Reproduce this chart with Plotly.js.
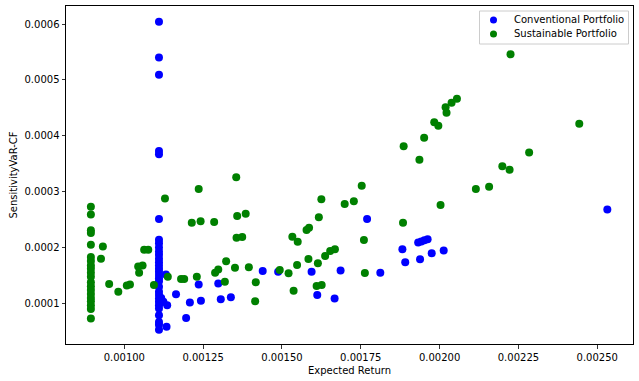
<!DOCTYPE html>
<html>
<head>
<meta charset="utf-8">
<script src="https://cdn.plot.ly/plotly-3.0.1.min.js"></script>
<style>html,body{margin:0;padding:0;background:#fff;}#chart{width:639px;height:381px;}</style>
</head>
<body>
<div id="chart"></div>
<script>
// Conventional Portfolio (blue) : expected return and SensitivityVaR-CF
const convReturn = [
  0.00111,0.00111,0.00111,0.00111,0.00111,0.00111,
  0.00111,0.00111,0.00111,0.00111,0.00111,0.00111,0.00111,0.00111,0.00111,0.00111,0.00111,0.00111,0.00111,
  0.00111,0.00111,0.00111,0.00111,0.00111,0.00111,0.00111,0.00111,0.00111,0.00111,0.00111,
  0.001117,0.00112,
  0.001132,0.001136,0.001124,0.001134,0.001164,0.001208,0.001196,0.001236,0.001243,0.001298,0.001306,0.001338,
  0.001439,0.001488,0.001594,0.001686,0.001612,0.001667,0.00177,0.001812,0.001882,0.001891,0.001938,
  0.001932,0.001942,0.001952,0.001962,0.001975,0.002013,0.002532
];
const convVaR = [
  0.000604,0.000540,0.000509,0.000373,0.000367,0.000251,
  0.000214,0.000208,0.000200,0.000193,0.000187,0.000180,0.000174,0.000168,0.000162,0.000157,0.000151,0.000145,0.000140,
  0.000130,0.000121,0.000115,0.000109,0.000103,0.000097,0.000091,0.000079,0.000067,0.000062,0.000053,
  0.000110,0.000104,
  0.000152,0.000097,0.000103,0.0000585,0.0001165,0.000102,0.000074,0.000134,0.000105,0.000136,0.0001075,0.000111,
  0.000158,0.000157,0.000157,0.000159,0.000115,0.000109,0.000251,0.000155,0.000197,0.000174,0.000179,
  0.000209,0.000211,0.000213,0.000215,0.000190,0.000195,0.000268
];

// Sustainable Portfolio (green)
const sustReturn = [
  0.000894,0.000894,0.000894,0.000894,0.000894,0.000894,0.000894,0.000894,0.000894,
  0.000894,0.000894,0.000894,0.000894,0.000894,0.000894,0.000894,0.000894,0.000894,0.000894,0.000894,
  0.000932,0.000926,0.000952,0.000981,0.001008,0.001018,0.001044,0.001058,0.001047,0.001063,0.001076,
  0.001094,0.001129,0.001138,0.00118,0.00119,0.00123,0.001214,0.001242,0.001236,0.001285,0.001288,0.001298,
  0.001355,0.001358,0.001385,0.001356,0.001374,0.001533,0.00155,0.001578,0.001586,0.001625,0.001617,
  0.001699,0.001728,0.001753,0.001323,0.001351,0.001395,0.001319,0.001417,0.001415,0.001493,0.001521,
  0.001548,0.001537,0.001584,0.001614,0.00161,0.001626,0.001637,0.001653,0.001668,0.001936,0.001884,
  0.00176,0.001763,0.002003,0.002115,0.002157,0.002199,0.002222,0.002284,0.002225,0.002055,0.002038,
  0.002019,0.002022,0.001983,0.001996,0.001951,0.001886,0.002443
];
const sustVaR = [
  0.000273,0.000259,0.000231,0.000226,0.000205,0.000183,0.000176,0.000168,0.000162,
  0.000155,0.000148,0.000138,0.000131,0.000124,0.000117,0.000110,0.000104,0.000097,0.000090,0.000073,
  0.000202,0.000180,0.000135,0.000121,0.000132,0.000134,0.000166,0.000168,0.000155,0.000196,0.000196,
  0.000133,0.000288,0.000148,0.000144,0.000144,0.000148,0.0002445,0.000247,0.000305,0.000246,0.000155,0.000161,
  0.0003257,0.0002565,0.0002606,0.0002177,0.000219,0.0002195,0.0002105,0.0002315,0.0002356,0.0002864,0.0002542,
  0.000278,0.000283,0.0003107,0.0001755,0.000164,0.0001648,0.000139,0.000138,0.000104,0.00016,0.000154,
  0.0001689,0.0001229,0.0001796,0.000172,0.0001313,0.0001331,0.000185,0.0001939,0.0001969,0.0003573,0.0002445,
  0.0002136,0.0001546,0.0002762,0.0003048,0.000309,0.0003454,0.0003394,0.00037,0.0005458,0.0004664,0.0004592,
  0.000451,0.0004413,0.0004241,0.0004181,0.0003966,0.0003812,0.0004217
];

const xTickVals = [0.00100,0.00125,0.00150,0.00175,0.00200,0.00225,0.00250];
const xTickText = ["0.00100","0.00125","0.00150","0.00175","0.00200","0.00225","0.00250"];
const yTickVals = [0.0001,0.0002,0.0003,0.0004,0.0005,0.0006];
const yTickText = ["0.0001","0.0002","0.0003","0.0004","0.0005","0.0006"];
const seriesNames = ["Conventional Portfolio","Sustainable Portfolio"];
const seriesColors = ["#0000ff","#008000"];

const FONT = "DejaVu Sans, sans-serif";

const traces = [
  {x: convReturn, y: convVaR, name: seriesNames[0], type: "scatter", mode: "markers",
   marker: {color: seriesColors[0], size: 8}, showlegend: false, cliponaxis: false},
  {x: sustReturn, y: sustVaR, name: seriesNames[1], type: "scatter", mode: "markers",
   marker: {color: seriesColors[1], size: 8}, showlegend: false, cliponaxis: false}
];

// legend box geometry (paper coords)
const L = 66, R = 633, T = 6, B = 344;
const px = v => (v - L) / (R - L);
const py = v => (B - v) / (B - T);

const shapes = [
  {type: "rect", xref: "paper", yref: "paper", x0: px(479.5), x1: px(628.5), y0: py(44), y1: py(11),
   line: {color: "#cccccc", width: 1}, fillcolor: "rgba(255,255,255,0.8)", layer: "above"}
];
const annotations = [];
[20, 34].forEach((yy, i) => {
  shapes.push({type: "circle", xref: "paper", yref: "paper", xsizemode: "pixel", ysizemode: "pixel",
    xanchor: px(493.5), yanchor: py(yy), x0: -3.5, x1: 3.5, y0: -3.5, y1: 3.5,
    fillcolor: seriesColors[i], line: {width: 0}, layer: "above"});
  annotations.push({xref: "paper", yref: "paper", x: px(511.5), y: py(yy), xanchor: "left", yanchor: "middle",
    text: seriesNames[i], showarrow: false, font: {family: FONT, size: 10, color: "#000"}});
});

const axisCommon = {
  showline: true, mirror: true, linecolor: "#000", linewidth: 1,
  ticks: "outside", ticklen: 3.5, tickwidth: 0.8, tickcolor: "#000",
  showgrid: false, zeroline: false, tickmode: "array",
  tickfont: {family: FONT, size: 10, color: "#000"}
};

const layout = {
  width: 639, height: 381,
  margin: {l: 66, r: 6, t: 6, b: 37, pad: 0},
  paper_bgcolor: "#fff", plot_bgcolor: "#fff",
  font: {family: FONT, size: 10, color: "#000"},
  xaxis: Object.assign({}, axisCommon, {
    range: [0.0008151, 0.0026134], tickvals: xTickVals, ticktext: xTickText,
    title: {text: "Expected Return", font: {family: FONT, size: 10, color: "#000"}, standoff: 5}
  }),
  yaxis: Object.assign({}, axisCommon, {
    range: [0.00002755, 0.0006322], tickvals: yTickVals, ticktext: yTickText,
    title: {text: "SensitivityVaR-CF", font: {family: FONT, size: 10, color: "#000"}, standoff: 5}
  }),
  shapes: shapes,
  annotations: annotations,
  showlegend: false
};

Plotly.newPlot("chart", traces, layout, {displayModeBar: false, staticPlot: true});
</script>
</body>
</html>
